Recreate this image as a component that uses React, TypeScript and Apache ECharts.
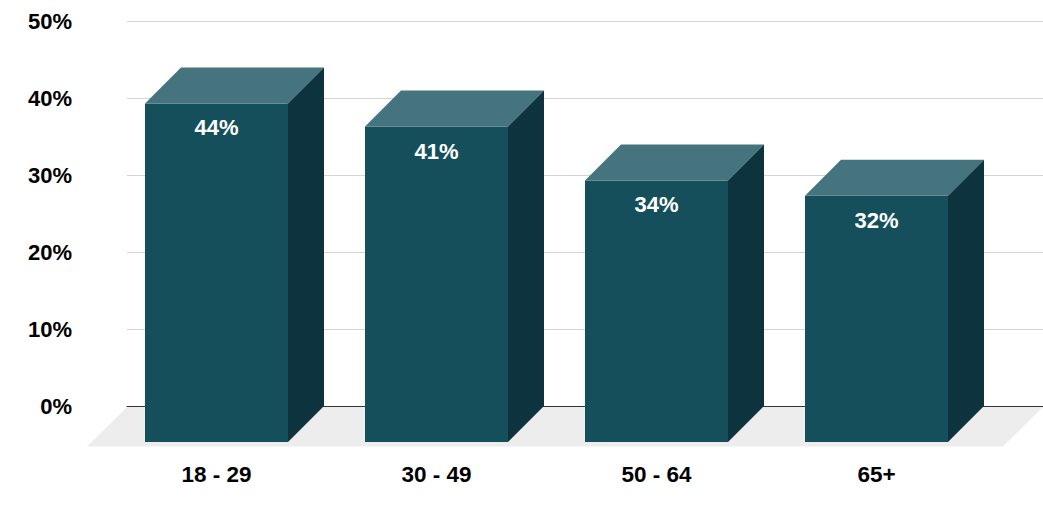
import { useEffect, useRef } from "react";
import * as echarts from "echarts";

const categories = ["18 - 29", "30 - 49", "50 - 64", "65+"];
const values = [44, 41, 34, 32];
const yTicks = [0, 10, 20, 30, 40, 50];

const FRONT = "#164f5c";
const TOP = "#45747e";
const SIDE = "#0d343e";
const FONT = "'Liberation Sans', Arial, sans-serif";

const App = () => {
  const ref = useRef<HTMLDivElement | null>(null);

  useEffect(() => {
    if (!ref.current) return;
    const chart = echarts.init(ref.current, null, { renderer: "svg" });
    const depth = 36;

    chart.setOption({
      animation: false,
      grid: [
        { left: 127, right: 0, top: 21.3, bottom: 103 },
        { left: 106.5, right: 56.5, top: 21.3, bottom: 103 },
      ],
      xAxis: [
        {
          type: "category",
          gridIndex: 0,
          data: categories,
          axisLine: { lineStyle: { color: "#333333", width: 1 } },
          axisTick: { show: false },
          axisLabel: { show: false },
        },
        {
          type: "category",
          gridIndex: 1,
          data: categories,
          axisLine: { show: false },
          axisTick: { show: false },
          axisLabel: {
            margin: 56.5,
            color: "#000000",
            fontSize: 22.5,
            fontWeight: "bold",
            fontFamily: FONT,
          },
        },
      ],
      yAxis: [
        {
          type: "value",
          gridIndex: 0,
          min: yTicks[0],
          max: yTicks[yTicks.length - 1],
          interval: 10,
          axisLine: { show: false },
          axisTick: { show: false },
          splitLine: { lineStyle: { color: "#d4d4d4", width: 1 } },
          axisLabel: {
            formatter: "{value}%",
            margin: 55,
            color: "#000000",
            fontSize: 22,
            fontWeight: "bold",
            fontFamily: FONT,
          },
        },
        {
          type: "value",
          gridIndex: 1,
          min: yTicks[0],
          max: yTicks[yTicks.length - 1],
          interval: 10,
          show: false,
          splitLine: { show: false },
        },
      ],
      graphic: [
        {
          type: "polygon",
          z: 1,
          silent: true,
          shape: {
            points: [
              [127, 407],
              [1043, 407],
              [1003, 446.5],
              [87, 446.5],
            ],
          },
          style: { fill: "#ededed" },
        },
      ],
      series: [
        {
          type: "custom",
          xAxisIndex: 1,
          yAxisIndex: 1,
          z: 5,
          data: values.map((v, i) => [i, v]),
          renderItem: (params: any, api: any) => {
            const i = api.value(0);
            const v = api.value(1);
            const top = api.coord([i, v]);
            const base = api.coord([i, 0]);
            const hw = (api.size([1, 0])[0] * 0.65) / 2;
            const cx = top[0];
            const yf = top[1] + depth;
            return {
              type: "group",
              children: [
                {
                  type: "rect",
                  shape: {
                    x: cx - hw,
                    y: yf,
                    width: hw * 2,
                    height: base[1] - top[1],
                  },
                  style: { fill: FRONT },
                },
                {
                  type: "polygon",
                  shape: {
                    points: [
                      [cx - hw, yf],
                      [cx - hw + depth, top[1]],
                      [cx + hw + depth, top[1]],
                      [cx + hw, yf],
                    ],
                  },
                  style: { fill: TOP },
                },
                {
                  type: "polygon",
                  shape: {
                    points: [
                      [cx + hw, yf],
                      [cx + hw + depth, top[1]],
                      [cx + hw + depth, base[1]],
                      [cx + hw, base[1] + depth],
                    ],
                  },
                  style: { fill: SIDE },
                },
                {
                  type: "text",
                  x: cx,
                  y: yf + 24.5,
                  style: {
                    text: `${v}%`,
                    fill: "#ffffff",
                    fontSize: 22,
                    fontWeight: "bold",
                    fontFamily: FONT,
                    align: "center",
                    verticalAlign: "middle",
                  },
                },
              ],
            };
          },
        },
      ],
    });

    return () => chart.dispose();
  }, []);

  return (
    <div
      ref={ref}
      style={{ position: "fixed", left: 0, top: 0, width: 1043, height: 509, background: "#ffffff" }}
    />
  );
};

export default App;
